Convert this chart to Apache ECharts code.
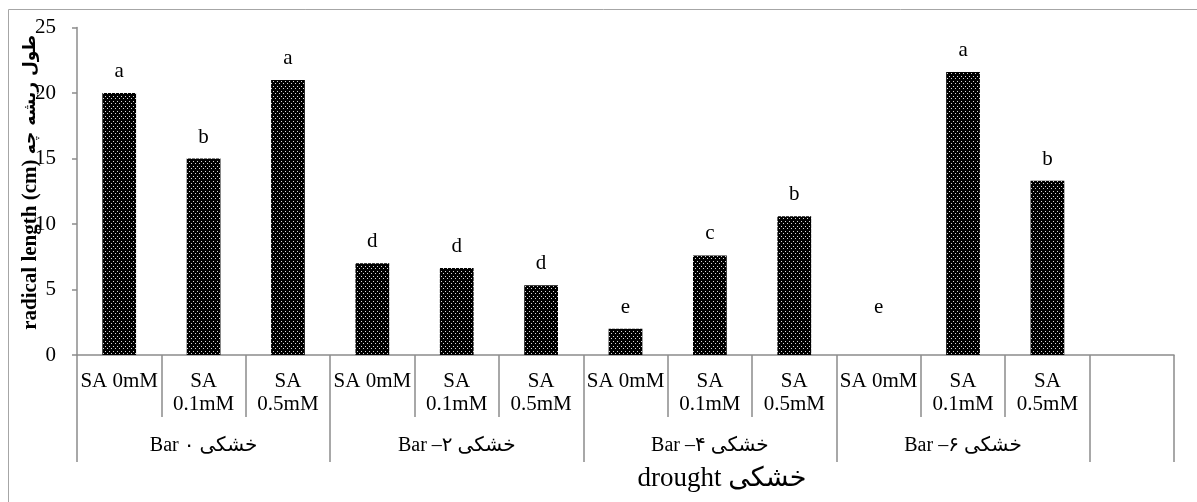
<!DOCTYPE html>
<html>
<head>
<meta charset="utf-8">
<script src="https://cdn.jsdelivr.net/npm/echarts@6/dist/echarts.min.js"></script>
<style>
  html, body { margin: 0; padding: 0; background: #fff; }
  #chart { width: 1197px; height: 502px; }
</style>
</head>
<body>
<div id="chart"></div>
<script>
// Salicylic acid treatments inside each drought level
const treatments = ['SA 0mM', 'SA\n0.1mM', 'SA\n0.5mM'];
// Drought levels (outer category row)
const droughtLevels = ['Bar ۰ خشکی', 'Bar –۲ خشکی', 'Bar –۴ خشکی', 'Bar –۶ خشکی'];
// Radical length (cm), in treatment order within each drought level
const radicalLength = [20, 15, 21, 7, 6.65, 5.33, 2, 7.6, 10.6, 0, 21.6, 13.3];
// Mean-comparison letters shown above each bar
const letters = ['a', 'b', 'a', 'd', 'd', 'd', 'e', 'c', 'b', 'e', 'a', 'b'];
// Value axis ticks
const yMin = 0, yMax = 25, yStep = 5;

const FONT = "'Liberation Serif', 'Times New Roman', 'DejaVu Sans', serif";
const AXIS_GRAY = '#8c8c8c';

// Inner row: one slot per treatment plus a trailing empty slot
const innerCats = [];
const outerCats = [];
droughtLevels.forEach(function (lvl) {
  treatments.forEach(function (t, i) {
    innerCats.push(t);
    outerCats.push(i === 1 ? lvl : '');
  });
});
innerCats.push('');
outerCats.push('');

// A zero-length bar keeps its letter raised to the row of the neighbouring 'e'
const barData = radicalLength.map(function (v, i) {
  const item = { value: v, letter: letters[i] };
  if (v === 0) item.label = { offset: [0, -26] };
  return item;
});
barData.push({ value: '-', letter: '' });

// Black fill with small light dots
function dotPattern() {
  const c = document.createElement('canvas');
  c.width = 4; c.height = 5;
  const g = c.getContext('2d');
  g.fillStyle = '#000';
  g.fillRect(0, 0, 4, 5);
  g.fillStyle = '#d8d8d8';
  g.fillRect(1, 1, 1, 1);
  g.fillRect(3, 3, 1, 1);
  return c;
}

const chart = echarts.init(document.getElementById('chart'), null, { renderer: 'canvas' });

chart.setOption({
  backgroundColor: '#fff',
  animation: false,
  textStyle: { fontFamily: FONT, color: '#000' },
  title: {
    text: 'drought خشکی',
    left: 717,
    top: 460,
    textAlign: 'center',
    textStyle: { fontSize: 27, fontWeight: 'normal', fontFamily: FONT, color: '#000' }
  },
  graphic: [{
    type: 'rect',
    silent: true,
    z: -10,
    shape: { x: 8.5, y: 9.5, width: 1400, height: 700 },
    style: { fill: 'none', stroke: '#a6a6a6', lineWidth: 1 }
  }],
  grid: { left: 77, right: 23, top: 27.5, bottom: 147, containLabel: false, outerBoundsMode: 'none' },
  xAxis: [{
    type: 'category',
    position: 'bottom',
    data: innerCats,
    axisLine: { show: true, lineStyle: { color: AXIS_GRAY, width: 1.5 } },
    axisTick: { show: true, interval: 0, length: 62, lineStyle: { color: AXIS_GRAY, width: 1.5 } },
    axisLabel: {
      interval: 0, margin: 15, fontSize: 21, lineHeight: 23,
      fontFamily: FONT, color: '#000', align: 'center', verticalAlign: 'top'
    },
    splitLine: { show: false }
  }, {
    type: 'category',
    position: 'bottom',
    data: outerCats,
    axisLine: { show: false },
    axisTick: {
      show: true,
      interval: function (i) { return i % 3 === 0; },
      length: 107,
      lineStyle: { color: AXIS_GRAY, width: 1.5 }
    },
    axisLabel: { interval: 0, margin: 81, fontSize: 20, fontFamily: FONT, color: '#000', verticalAlign: 'top' },
    splitLine: { show: false }
  }],
  yAxis: {
    type: 'value',
    min: yMin, max: yMax, interval: yStep,
    axisLine: { show: true, lineStyle: { color: AXIS_GRAY, width: 1.5 } },
    axisTick: { show: true, inside: false, length: 5, lineStyle: { color: AXIS_GRAY, width: 1.5 } },
    axisLabel: { margin: 21, fontSize: 21, fontFamily: FONT, color: '#000' },
    splitLine: { show: false },
    name: 'radical length (cm) {fa|طول ریشه چه}',
    nameLocation: 'middle',
    nameRotate: 90,
    nameGap: 36,
    nameMoveOverlap: false,
    nameTextStyle: {
      fontSize: 21, fontWeight: 'bold', fontFamily: FONT, color: '#000',
      padding: [0, 0, 0, 18],
      rich: {
        fa: { fontSize: 17, fontWeight: 'bold', fontFamily: "'DejaVu Sans', sans-serif", color: '#000' }
      }
    }
  },
  series: [{
    type: 'bar',
    xAxisIndex: 0,
    data: barData,
    barWidth: '40%',
    itemStyle: { color: { image: dotPattern(), repeat: 'repeat' } },
    label: {
      show: true,
      position: 'top',
      distance: 11,
      fontSize: 21,
      fontFamily: FONT,
      color: '#000',
      formatter: function (p) { return p.data.letter; }
    }
  }]
});
</script>
</body>
</html>
